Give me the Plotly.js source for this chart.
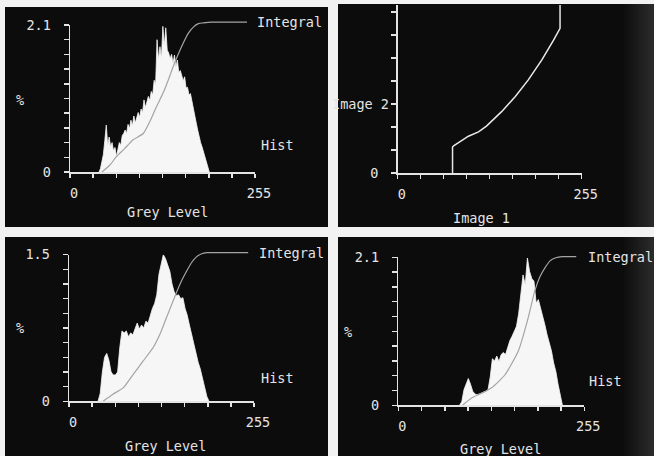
<!DOCTYPE html>
<html>
<head>
<meta charset="utf-8">
<script src="https://cdn.plot.ly/plotly-3.0.1.min.js"></script>
<style>html,body{margin:0;padding:0;background:#f2f2f2;}#chart{width:654px;height:456px;}</style>
</head>
<body>
<div id="chart"></div>
<script>
// ---------- data ----------
// Panel 1 (top-left): histogram of image 1, % per grey level
const greyLevels1 = [40,42,44,46,48,50,52,54,56,58,60,62,64,66,68,70,72,74,76,78,80,82,84,86,88,90,92,94,96,98,100,102,104,106,108,110,112,114,116,118,120,122,124,126,128,130,132,134,136,138,140,142,144,146,148,150,152,154,156,158,160,162,164,166,168,170,172,174,176,178,180,182,184,186,188,190,192];
const hist1 = [0,0.05,0.15,0.25,0.45,0.67,0.38,0.50,0.36,0.42,0.30,0.35,0.22,0.30,0.42,0.38,0.52,0.55,0.60,0.55,0.68,0.62,0.74,0.66,0.80,0.70,0.76,0.85,0.78,0.90,0.85,1.03,0.92,1.00,1.08,1.02,1.15,1.10,1.31,1.25,1.89,1.60,1.79,1.62,2.08,1.80,2.06,1.74,1.70,1.62,1.68,1.55,1.67,1.50,1.60,1.42,1.45,1.38,1.30,1.36,1.20,1.21,1.10,1.12,1.00,0.89,0.82,0.70,0.60,0.50,0.42,0.36,0.28,0.20,0.14,0.06,0];
const integralX1 = [44,55,64,75,87,101,110,119,128,135,142,149,156,163,170,177,184,195,244];
const integralY1 = [0,0.10,0.22,0.33,0.46,0.55,0.72,0.93,1.12,1.30,1.50,1.68,1.84,1.98,2.07,2.12,2.13,2.14,2.14];

// Panel 2 (top-right): grey level mapping image 1 -> image 2
const mapX = [76,76,78,90,98,112,123,144,163,181,200,216,225,225];
const mapY = [0,36,38,46,51,57,65,85,106,129,157,184,200.5,255];

// Panel 3 (bottom-left): histogram of image 2
const greyLevels3 = [40,43,46,49,52,55,58,61,64,67,70,73,76,79,82,85,88,91,94,97,100,103,106,109,112,115,118,121,124,127,130,133,136,139,142,145,148,151,154,157,160,163,166,169,172,175,178,181,184,187,190,193];
const hist3 = [0,0.08,0.30,0.45,0.49,0.42,0.30,0.27,0.27,0.30,0.55,0.72,0.70,0.72,0.66,0.70,0.68,0.74,0.80,0.74,0.78,0.75,0.82,0.80,0.88,0.95,1.00,1.09,1.30,1.42,1.50,1.46,1.40,1.33,1.20,1.12,1.08,1.09,1.05,1.06,0.95,0.88,0.78,0.68,0.58,0.50,0.40,0.33,0.24,0.15,0.05,0];
const integralX3 = [47,60,75,88,102,116,125,134,141,148,155,162,169,176,183,190,200,247];
const integralY3 = [0,0.07,0.14,0.27,0.41,0.55,0.68,0.85,0.98,1.11,1.23,1.33,1.42,1.48,1.51,1.52,1.52,1.52];

// Panel 4 (bottom-right): histogram of image 3
const greyLevels4 = [84,87,90,93,96,99,102,105,108,111,114,117,120,123,126,129,132,135,138,141,144,147,150,153,156,159,162,165,168,171,174,177,180,183,186,189,192,195,198,201,204,207,210,213,216,219,222,225];
const hist4 = [0,0.05,0.22,0.30,0.38,0.30,0.20,0.16,0.15,0.16,0.17,0.18,0.20,0.22,0.40,0.66,0.63,0.70,0.62,0.72,0.75,0.72,0.82,0.92,0.98,1.05,1.12,1.30,1.60,1.85,1.71,2.09,1.90,1.80,1.76,1.45,1.50,1.38,1.30,1.14,1.00,0.90,0.77,0.60,0.48,0.30,0.12,0];
const integralX4 = [88,100,114,128,146,164.5,178,187,194,201,208,215,225,244];
const integralY4 = [0,0.10,0.17,0.25,0.43,0.77,1.24,1.62,1.82,1.95,2.05,2.09,2.11,2.11];

// tick labels
const histYMax = ['2.1','1.5','2.1'];
const xTickEnds = ['0','255'];

// ---------- layout helpers ----------
const W = 654, H = 456;
const xd = (a,b) => [a/W, b/W];
const yd = (top,bot) => [1-bot/H, 1-top/H];
const FONT = 'DejaVu Sans Mono, Liberation Mono, monospace';
const FG = '#e4e4e4';

function xTicks(){
  const v=[],t=[];
  for(let i=0;i<=8;i++){v.push(i*255/8); t.push(i===0?xTickEnds[0]:(i===8?xTickEnds[1]:''));}
  return {v,t};
}
function yTicks(max,label,n){
  const v=[],t=[];
  for(let i=0;i<=n;i++){v.push(i*max/n); t.push(i===0?'0':(i===n?label:''));}
  return {v,t};
}
const baseAxis = {
  showline:true, linecolor:FG, linewidth:1.5, showgrid:false, zeroline:false,
  ticks:'outside', tickcolor:FG, tickwidth:1.5, tickmode:'array',
  tickfont:{family:FONT,size:13.5,color:FG}, fixedrange:true
};
function xAxis(dom,anchor){
  const t=xTicks();
  return Object.assign({},baseAxis,{domain:dom,range:[0,255],anchor:anchor,tickvals:t.v,ticktext:t.t,ticklen:4,ticklabelstandoff:4,ticklabelshift:4});
}
function yAxis(dom,range,anchor,tv,tt){
  return Object.assign({},baseAxis,{domain:dom,range:range,anchor:anchor,tickvals:tv,ticktext:tt,ticklen:5,ticklabelstandoff:10});
}
const hidden = (dom,range,anchor) => ({domain:dom,range:range,anchor:anchor,visible:false,fixedrange:true});

const y1t = yTicks(2.1,histYMax[0],10);
const y3t = yTicks(1.5,histYMax[1],10);
const y4t = yTicks(2.1,histYMax[2],10);
const y2v=[],y2t=[];
for(let i=0;i<=7;i++){y2v.push(i*255/8); y2t.push(i===0?'0':'');}

const histStyle = {type:'scatter',mode:'lines',fill:'tozeroy',fillcolor:'#f6f6f6',line:{color:'#f6f6f6',width:0.8},hoverinfo:'skip',showlegend:false};
const intStyle = {type:'scatter',mode:'lines',line:{color:'#a4a4a4',width:1.2,shape:'spline',smoothing:0.6},hoverinfo:'skip',showlegend:false};

const data = [
  Object.assign({},histStyle,{x:greyLevels1,y:hist1,xaxis:'x',yaxis:'y'}),
  Object.assign({},intStyle,{x:integralX1,y:integralY1,xaxis:'x',yaxis:'y5'}),
  {type:'scatter',mode:'lines',x:mapX,y:mapY,xaxis:'x2',yaxis:'y2',line:{color:'#e8e8e8',width:1.5},hoverinfo:'skip',showlegend:false},
  Object.assign({},histStyle,{x:greyLevels3,y:hist3,xaxis:'x3',yaxis:'y3'}),
  Object.assign({},intStyle,{x:integralX3,y:integralY3,xaxis:'x3',yaxis:'y6'}),
  Object.assign({},histStyle,{x:greyLevels4,y:hist4,xaxis:'x4',yaxis:'y4'}),
  Object.assign({},intStyle,{x:integralX4,y:integralY4,xaxis:'x4',yaxis:'y7'})
];

function panel(x0,y0,x1,y1){
  return {type:'rect',xref:'paper',yref:'paper',x0:x0/W,x1:x1/W,y0:1-y1/H,y1:1-y0/H,fillcolor:'#0c0c0c',line:{width:0},layer:'below'};
}
const shapes = [panel(5,7,328,227), panel(338,4,654,227), panel(5,237,328,456), panel(338,237,654,456)];
// soft grey fade at the right edge of the photographed screen
for(let k=0;k<10;k++){
  const x0 = 624 + k*3;
  [[4,227],[237,456]].forEach(([a,b])=>{
    shapes.push({type:'rect',xref:'paper',yref:'paper',x0:x0/W,x1:1,y0:1-b/H,y1:1-a/H,fillcolor:'rgba(150,150,150,0.022)',line:{width:0},layer:'below'});
  });
}
function label(text,px,py,anchor){
  return {text:text,xref:'paper',yref:'paper',x:px/W,y:1-py/H,xanchor:anchor||'center',yanchor:'middle',showarrow:false,font:{family:FONT,size:13.5,color:FG}};
}

const layout = {
  width:W, height:H, margin:{l:0,r:0,t:0,b:0},
  paper_bgcolor:'#f2f2f2', plot_bgcolor:'rgba(0,0,0,0)', showlegend:false,
  xaxis: xAxis(xd(70,255),'y'),
  yaxis: yAxis(yd(25,172),[0,2.1],'x',y1t.v,y1t.t),
  yaxis5: hidden(yd(18,172),[0,2.2],'x'),
  xaxis2: xAxis(xd(397.7,581.7),'y2'),
  yaxis2: yAxis(yd(5,173),[0,232.8],'x2',y2v,y2t),
  xaxis3: xAxis(xd(69,254),'y3'),
  yaxis3: yAxis(yd(254.7,401.3),[0,1.5],'x3',y3t.v,y3t.t),
  yaxis6: hidden(yd(244.9,401.3),[0,1.6],'x3'),
  xaxis4: xAxis(xd(398.3,584.3),'y4'),
  yaxis4: yAxis(yd(257.3,405.3),[0,2.1],'x4',y4t.v,y4t.t),
  yaxis7: hidden(yd(250.3,405.3),[0,2.2],'x4'),
  shapes: shapes,
  annotations:[
    label('%',20,100), label('Integral',255,22,'left'), label('Hist',259,145,'left'), label('Grey Level',167,212),
    label('Image 2',391,104,'right'), label('Image 1',482,218),
    label('%',20,328), label('Integral',257,253,'left'), label('Hist',259,378,'left'), label('Grey Level',165,446),
    label('%',348,332), label('Integral',586,257,'left'), label('Hist',587,381,'left'), label('Grey Level',500,449)
  ]
};

Plotly.newPlot('chart', data, layout, {displayModeBar:false, staticPlot:true});
</script>
</body>
</html>
